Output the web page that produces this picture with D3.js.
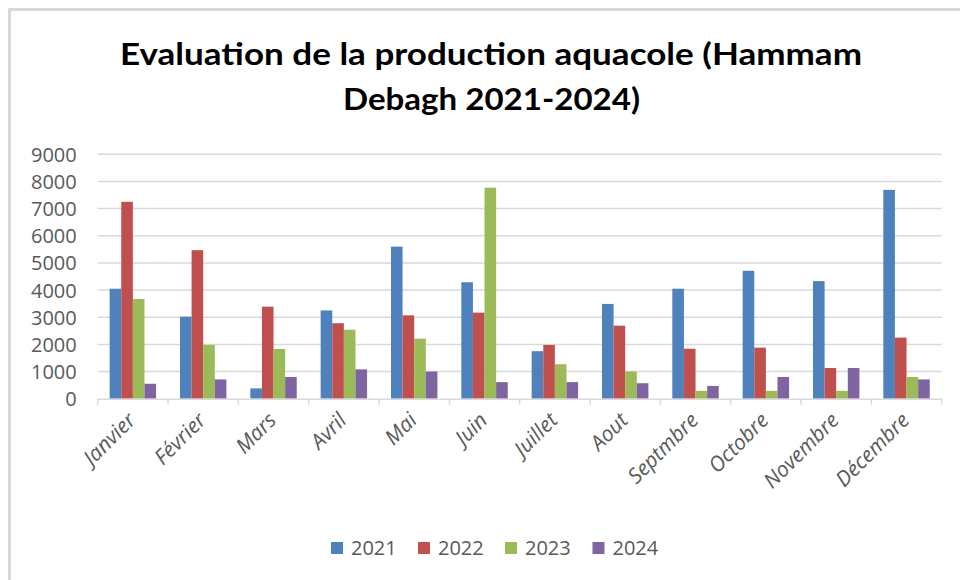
<!DOCTYPE html>
<html>
<head>
<meta charset="utf-8">
<script src="https://cdn.jsdelivr.net/npm/d3@7/dist/d3.min.js"></script>
<style>
  html, body { margin: 0; padding: 0; background: #fff; }
  svg { display: block; }
</style>
</head>
<body>
<svg id="chart" width="960" height="580"></svg>
<script>
// Monthly aquaculture production, Hammam Debagh, 2021-2024
const months = ["Janvier", "Février", "Mars", "Avril", "Mai", "Juin", "Juillet", "Aout", "Septmbre", "Octobre", "Novembre", "Décembre"];
const years = ["2021", "2022", "2023", "2024"];
const values2021 = [4050, 3020, 380, 3250, 5600, 4290, 1750, 3490, 4050, 4710, 4330, 7690];
const values2022 = [7250, 5470, 3390, 2780, 3070, 3170, 1980, 2690, 1840, 1880, 1130, 2250];
const values2023 = [3670, 1980, 1830, 2540, 2210, 7770, 1270, 1000, 290, 290, 290, 800];
const values2024 = [550, 710, 800, 1080, 1000, 610, 610, 570, 470, 800, 1130, 710];
const yTicks = [0, 1000, 2000, 3000, 4000, 5000, 6000, 7000, 8000, 9000];
const colors = ["#4F81BD", "#C0504D", "#9BBB59", "#8064A2"];

const seriesValues = [values2021, values2022, values2023, values2024];
const rows = months.map((m, i) => ({ month: m, vals: years.map((y, j) => ({ year: y, value: seriesValues[j][i], color: colors[j] })) }));

const svg = d3.select("#chart");
const textGray = "#595959";
const gridGray = "#d9d9d9";

// outer chart frame
svg.append("rect")
  .attr("x", 9.5).attr("y", 9.5)
  .attr("width", 1000).attr("height", 1000)
  .attr("fill", "none").attr("stroke", "#d9d9d9").attr("stroke-width", 3);

// title
const title = svg.append("g").attr("font-family", "Lato, 'Open Sans', sans-serif").attr("font-weight", "bold").attr("font-size", 31).attr("fill", "#000").attr("text-anchor", "middle");
title.append("text").attr("x", 491).attr("y", 65)
  .attr("textLength", 742).attr("lengthAdjust", "spacingAndGlyphs")
  .text("Evaluation de la production aquacole (Hammam");
title.append("text").attr("x", 491.5).attr("y", 110)
  .attr("textLength", 297).attr("lengthAdjust", "spacingAndGlyphs")
  .text("Debagh 2021-2024)");

// scales
const plot = { left: 97.7, right: 941.7, top: 154.3, bottom: 398.7 };
const x = d3.scaleBand().domain(months).range([plot.left, plot.right]).paddingInner(0).paddingOuter(0);
const groupPad = (x.bandwidth() * (1 - 0.66)) / 2;
const x1 = d3.scaleBand().domain(years).range([groupPad, x.bandwidth() - groupPad]).padding(0);
const y = d3.scaleLinear().domain([0, 9000]).range([plot.bottom, plot.top]);

// gridlines
svg.append("g").selectAll("line").data(yTicks.filter(t => t > 0)).join("line")
  .attr("x1", plot.left).attr("x2", plot.right)
  .attr("y1", d => y(d)).attr("y2", d => y(d))
  .attr("stroke", gridGray).attr("stroke-width", 1.5);

// y axis labels
const yAxis = svg.append("g").attr("transform", `translate(${plot.left},0)`)
  .call(d3.axisLeft(y).tickValues(yTicks).tickSize(0).tickPadding(21).tickFormat(d3.format("d")));
yAxis.select(".domain").remove();
yAxis.selectAll("text").attr("fill", textGray).attr("font-size", 20).attr("font-family", "'Open Sans', sans-serif").attr("dy", "0.35em");

// bars
const groups = svg.append("g").selectAll("g").data(rows).join("g")
  .attr("transform", d => `translate(${x(d.month)},0)`);
groups.selectAll("rect").data(d => d.vals).join("rect")
  .attr("x", d => x1(d.year))
  .attr("width", x1.bandwidth())
  .attr("y", d => y(d.value))
  .attr("height", d => y(0) - y(d.value))
  .attr("fill", d => d.color);

// category axis
const xAxis = svg.append("g").attr("transform", `translate(0,${plot.bottom})`)
  .call(d3.axisBottom(x).tickSize(0).tickFormat(""));
xAxis.select(".domain").attr("stroke", gridGray).attr("stroke-width", 1.5);
xAxis.selectAll(".tick").remove();
// tick marks at category boundaries
const boundaries = months.map(m => x(m)).concat([plot.right]);
svg.append("g").selectAll("line").data(boundaries).join("line")
  .attr("x1", d => d).attr("x2", d => d)
  .attr("y1", plot.bottom).attr("y2", plot.bottom + 6)
  .attr("stroke", gridGray).attr("stroke-width", 1.5);

// rotated month labels
svg.append("g").selectAll("text").data(months).join("text")
  .attr("transform", d => `translate(${x(d) + x.bandwidth() / 2 + 4},${plot.bottom + 23}) rotate(-45)`)
  .attr("text-anchor", "end")
  .attr("font-family", "'Open Sans', sans-serif")
  .attr("font-style", "italic")
  .attr("font-size", 21)
  .attr("fill", textGray)
  .text(d => d);

// legend
const legendX = [331, 418, 505, 592.5];
const legend = svg.append("g").selectAll("g").data(years).join("g")
  .attr("transform", (d, i) => `translate(${legendX[i]},542)`);
legend.append("rect").attr("width", 12).attr("height", 12).attr("fill", (d, i) => colors[i]);
legend.append("text").attr("x", 20).attr("y", 6).attr("dy", "0.35em")
  .attr("font-family", "'Open Sans', sans-serif").attr("font-size", 20).attr("fill", textGray)
  .text(d => d);
</script>
</body>
</html>
